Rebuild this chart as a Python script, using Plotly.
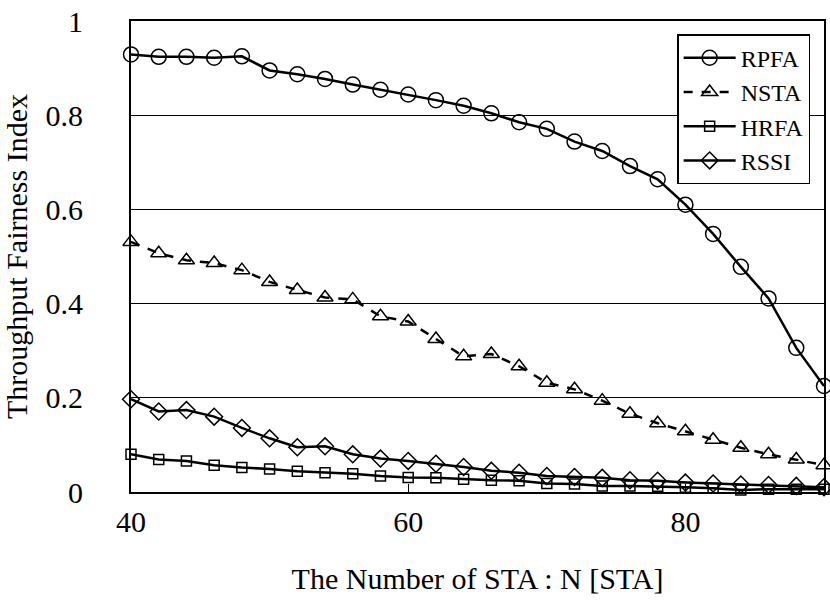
import plotly.graph_objects as go

n_sta = [40, 42, 44, 46, 48, 50, 52, 54, 56, 58, 60, 62, 64, 66, 68, 70, 72, 74, 76, 78, 80, 82, 84, 86, 88, 90]
rpfa = [0.929, 0.924, 0.924, 0.922, 0.925, 0.895, 0.887, 0.877, 0.865, 0.854, 0.844, 0.832, 0.820, 0.804, 0.785,
        0.771, 0.744, 0.724, 0.692, 0.664, 0.610, 0.548, 0.478, 0.411, 0.306, 0.225]
nsta = [0.531, 0.507, 0.492, 0.486, 0.471, 0.446, 0.429, 0.413, 0.409, 0.373, 0.362, 0.325, 0.288, 0.293, 0.267,
        0.232, 0.218, 0.194, 0.166, 0.146, 0.129, 0.111, 0.094, 0.080, 0.069, 0.057]
hrfa = [0.080, 0.069, 0.066, 0.057, 0.052, 0.049, 0.044, 0.041, 0.039, 0.034, 0.031, 0.030, 0.027, 0.025, 0.024,
        0.018, 0.017, 0.013, 0.013, 0.012, 0.010, 0.008, 0.004, 0.006, 0.006, 0.006]
rssi = [0.197, 0.171, 0.174, 0.160, 0.136, 0.114, 0.095, 0.097, 0.080, 0.071, 0.066, 0.060, 0.053, 0.045, 0.041,
        0.034, 0.032, 0.030, 0.025, 0.024, 0.020, 0.018, 0.016, 0.015, 0.013, 0.010]

x_ticks = [40, 60, 80]
y_ticks = [0, 0.2, 0.4, 0.6, 0.8, 1]
y_tick_text = ["0", "0.2", "0.4", "0.6", "0.8", "1"]

FONT = "Liberation Serif"

fig = go.Figure()
series = [
    ("RPFA", rpfa, "circle-open", 15, "solid"),
    ("NSTA", nsta, "triangle-up-open", 14, "dash"),
    ("HRFA", hrfa, "square-open", 10, "solid"),
    ("RSSI", rssi, "diamond-open", 13, "solid"),
]
for name, ys, sym, size, dash in series:
    fig.add_trace(go.Scatter(
        x=n_sta, y=ys, name=name, mode="lines+markers",
        line=dict(color="black", width=2.5, dash=dash),
        marker=dict(symbol=sym, size=size, color="black", line=dict(color="black", width=1.5)),
        cliponaxis=False,
    ))

fig.update_layout(
    width=830, height=601,
    margin=dict(l=131, r=4, t=17, b=109),
    paper_bgcolor="white", plot_bgcolor="white",
    font=dict(family=FONT, size=30, color="black"),
    showlegend=True,
    legend=dict(
        x=0.98, y=0.972, xanchor="right", yanchor="top",
        bgcolor="white", bordercolor="black", borderwidth=1.5,
        font=dict(family=FONT, size=24, color="black"),
        tracegroupgap=0, itemwidth=52,
    ),
)
fig.update_xaxes(
    range=[40, 90], tickvals=x_ticks, ticktext=[str(v) for v in x_ticks],
    ticks="inside", ticklen=8, tickwidth=1, tickcolor="black",
    ticklabelstandoff=2,
    showline=True, linecolor="black", linewidth=2, mirror=True,
    showgrid=False, zeroline=False,
    title=dict(text="The Number of STA : N [STA]", font=dict(family=FONT, size=30), standoff=31),
    tickfont=dict(family=FONT, size=30),
)
fig.update_yaxes(
    range=[0, 1], tickvals=y_ticks, ticktext=y_tick_text,
    ticks="", ticklabelstandoff=40,
    showline=True, linecolor="black", linewidth=2, mirror=True,
    showgrid=True, gridcolor="black", gridwidth=1, zeroline=False,
    title=dict(text="Throughput Fairness Index", font=dict(family=FONT, size=30), standoff=10),
    tickfont=dict(family=FONT, size=30),
)

fig.write_html("out.html", config={"displayModeBar": False},
               post_script="document.body.style.margin='0px';document.body.style.overflow='hidden';")
